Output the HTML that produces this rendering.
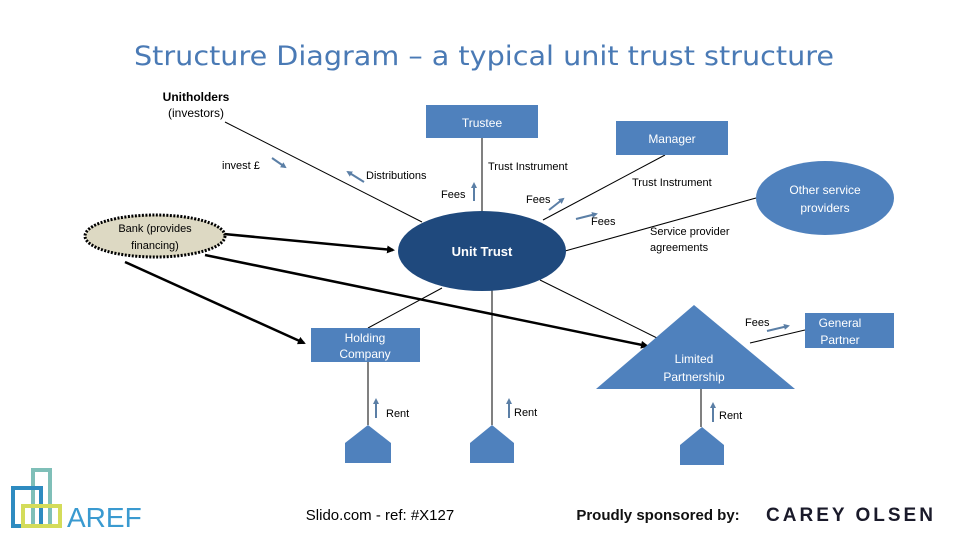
<!DOCTYPE html>
<html><head><meta charset="utf-8"><style>
html,body{margin:0;padding:0;background:#fff;}
svg{display:block;font-family:"Liberation Sans",sans-serif;}
</style></head><body>
<svg width="960" height="540" viewBox="0 0 960 540" xmlns="http://www.w3.org/2000/svg">
<defs>
<marker id="ah" markerWidth="8" markerHeight="8" refX="6" refY="4" orient="auto" markerUnits="userSpaceOnUse"><path d="M0,0 L8,4 L0,8 z" fill="#000"/></marker>
<marker id="sa" markerWidth="6" markerHeight="6" refX="4" refY="3" orient="auto" markerUnits="userSpaceOnUse"><path d="M0,0 L6,3 L0,6 z" fill="#5b7fa6"/></marker>
</defs>
<text x="484" y="65" font-size="27" fill="#4a7ab5" text-anchor="middle" font-family="DejaVu Sans, sans-serif" textLength="700" lengthAdjust="spacingAndGlyphs">Structure Diagram – a typical unit trust structure</text>

<g stroke="#000" stroke-width="1" fill="none">
<line x1="225" y1="122" x2="422" y2="222"/>
<line x1="482" y1="138" x2="482" y2="211"/>
<line x1="665" y1="155" x2="543" y2="220"/>
<line x1="756" y1="198" x2="565" y2="251"/>
<line x1="442" y1="288" x2="368" y2="328"/>
<line x1="492" y1="290" x2="492" y2="425"/>
<line x1="540" y1="280" x2="659" y2="339"/>
<line x1="368" y1="362" x2="368" y2="425"/>
<line x1="701" y1="389" x2="701" y2="427"/>
<line x1="750" y1="343" x2="805" y2="330"/>
</g>
<g stroke="#000" stroke-width="2.5" fill="none">
<line x1="224" y1="234" x2="393" y2="250" marker-end="url(#ah)"/>
<line x1="205" y1="255" x2="647" y2="346" marker-end="url(#ah)"/>
<line x1="125" y1="262" x2="304" y2="343" marker-end="url(#ah)"/>
</g>

<rect x="426" y="105" width="112" height="33" fill="#4f81bd"/>
<text x="482" y="127" font-size="12" fill="#fff" text-anchor="middle">Trustee</text>
<rect x="616" y="121" width="112" height="34" fill="#4f81bd"/>
<text x="672" y="143" font-size="12" fill="#fff" text-anchor="middle">Manager</text>
<ellipse cx="825" cy="198" rx="69" ry="37" fill="#4f81bd"/>
<text x="825" y="194" font-size="12" fill="#fff" text-anchor="middle">Other service</text>
<text x="825" y="212" font-size="12" fill="#fff" text-anchor="middle">providers</text>
<ellipse cx="482" cy="251" rx="84" ry="40" fill="#1f497d"/>
<text x="482" y="256" font-size="13" font-weight="bold" fill="#fff" text-anchor="middle">Unit Trust</text>
<ellipse cx="155" cy="236" rx="70" ry="21" fill="#ddd9c3" stroke="#000" stroke-width="3" stroke-dasharray="2,1.5"/>
<text x="155" y="232" font-size="11" fill="#000" text-anchor="middle">Bank (provides</text>
<text x="155" y="249" font-size="11" fill="#000" text-anchor="middle">financing)</text>
<rect x="311" y="328" width="109" height="34" fill="#4f81bd"/>
<text x="365" y="342" font-size="12" fill="#fff" text-anchor="middle">Holding</text>
<text x="365" y="358" font-size="12" fill="#fff" text-anchor="middle">Company</text>
<polygon points="694,305 596,389 795,389" fill="#4f81bd"/>
<text x="694" y="363" font-size="12" fill="#fff" text-anchor="middle">Limited</text>
<text x="694" y="381" font-size="12" fill="#fff" text-anchor="middle">Partnership</text>
<rect x="805" y="313" width="89" height="35" fill="#4f81bd"/>
<text x="840" y="327" font-size="12" fill="#fff" text-anchor="middle">General</text>
<text x="840" y="344" font-size="12" fill="#fff" text-anchor="middle">Partner</text>
<polygon points="368,425 391,443 391,463 345,463 345,443" fill="#4f81bd"/>
<polygon points="492,425 514,443 514,463 470,463 470,443" fill="#4f81bd"/>
<polygon points="702,427 724,445 724,465 680,465 680,445" fill="#4f81bd"/>

<g font-size="12" fill="#000">
<text x="196" y="101" font-weight="bold" text-anchor="middle">Unitholders</text>
<text x="196" y="117" text-anchor="middle">(investors)</text>
<text x="222" y="169" font-size="11">invest £</text>
<text x="366" y="179" font-size="11">Distributions</text>
<text x="488" y="170" font-size="11">Trust Instrument</text>
<text x="441" y="198" font-size="11">Fees</text>
<text x="526" y="203" font-size="11">Fees</text>
<text x="632" y="186" font-size="11">Trust Instrument</text>
<text x="591" y="225" font-size="11">Fees</text>
<text x="650" y="235" font-size="11">Service provider</text>
<text x="650" y="251" font-size="11">agreements</text>
<text x="745" y="326" font-size="11">Fees</text>
<text x="386" y="417" font-size="11">Rent</text>
<text x="514" y="416" font-size="11">Rent</text>
<text x="719" y="419" font-size="11">Rent</text>
</g>
<g stroke="#5b7fa6" stroke-width="2" fill="none">
<line x1="272" y1="158" x2="285" y2="167" marker-end="url(#sa)"/>
<line x1="364" y1="182" x2="348" y2="172" marker-end="url(#sa)"/>
<line x1="474" y1="201" x2="474" y2="184" marker-end="url(#sa)"/>
<line x1="549" y1="210" x2="563" y2="199" marker-end="url(#sa)"/>
<line x1="576" y1="219" x2="596" y2="214" marker-end="url(#sa)"/>
<line x1="767" y1="331" x2="788" y2="326" marker-end="url(#sa)"/>
<line x1="376" y1="418" x2="376" y2="400" marker-end="url(#sa)"/>
<line x1="509" y1="418" x2="509" y2="400" marker-end="url(#sa)"/>
<line x1="713" y1="422" x2="713" y2="404" marker-end="url(#sa)"/>
</g>

<g fill="none" stroke-width="4">
<rect x="33" y="470" width="17" height="56" stroke="#7fbfb8"/>
<rect x="13" y="488" width="28" height="38" stroke="#2e8bc0"/>
<rect x="23" y="506" width="37" height="20" stroke="#d4dc5a"/>
</g>
<text x="67" y="527" font-size="28" fill="#3a9ad0">AREF</text>

<text x="380" y="520" font-size="15" fill="#000" text-anchor="middle">Slido.com - ref: #X127</text>
<text x="658" y="520" font-size="15" font-weight="bold" fill="#111" text-anchor="middle">Proudly sponsored by:</text>
<text x="851" y="521" font-size="19" font-weight="bold" fill="#1a1a2a" text-anchor="middle" letter-spacing="3">CAREY OLSEN</text>
</svg>
</body></html>
